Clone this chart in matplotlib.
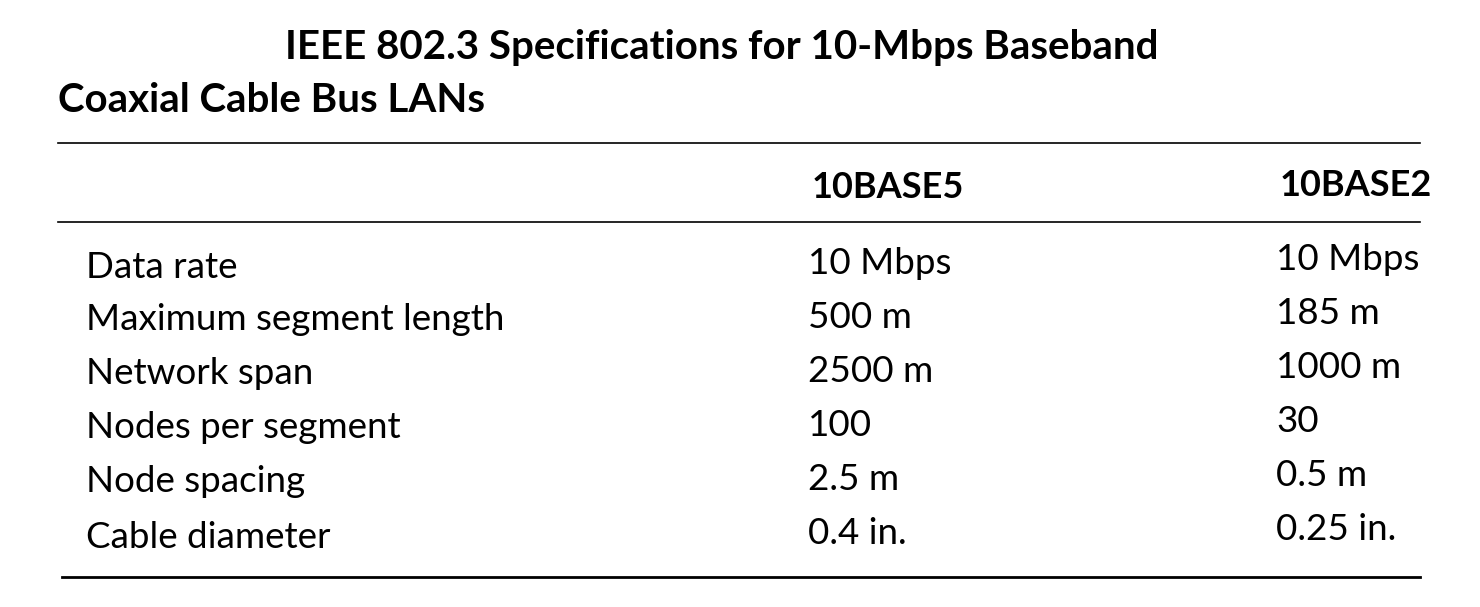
import matplotlib
matplotlib.use("Agg")
import matplotlib.pyplot as plt

title1 = "IEEE 802.3 Specifications for 10-Mbps Baseband"
title2 = "Coaxial Cable Bus LANs"
columns = ["10BASE5", "10BASE2"]
rows = ["Data rate", "Maximum segment length", "Network span",
        "Nodes per segment", "Node spacing", "Cable diameter"]
col1 = ["10 Mbps", "500 m", "2500 m", "100", "2.5 m", "0.4 in."]
col2 = ["10 Mbps", "185 m", "1000 m", "30", "0.5 m", "0.25 in."]

W, H = 1480, 607
fig = plt.figure(figsize=(14.8, 6.07), dpi=100)
ax = fig.add_axes([0, 0, 1, 1])
ax.set_xlim(0, W); ax.set_ylim(H, 0); ax.axis("off")
fam = ["Lato", "DejaVu Sans"]
fs = 26.5

ax.text(285, 47, title1, ha="left", va="center", fontsize=29, fontweight="bold", family=fam)
ax.text(58, 100, title2, ha="left", va="center", fontsize=29, fontweight="bold", family=fam)
ax.plot([58, 1420], [143, 143], color="black", lw=1.2)
ax.plot([58, 1420], [222, 222], color="black", lw=1.2)
ax.plot([62, 1420], [577, 577], color="black", lw=2)
ax.text(812, 188, columns[0], ha="left", va="center", fontsize=26, fontweight="bold", family=fam)
ax.text(1280, 185, columns[1], ha="left", va="center", fontsize=26, fontweight="bold", family=fam)

ys = [267, 320, 374, 428, 482, 537]
for i, y in enumerate(ys):
    ax.text(86, y, rows[i], ha="left", va="center", fontsize=fs, family=fam)
    ax.text(808, y - 3, col1[i], ha="left", va="center", fontsize=fs, family=fam)
    ax.text(1276, y - 7, col2[i], ha="left", va="center", fontsize=fs, family=fam)

fig.savefig("out.png", dpi=100, facecolor="white")
